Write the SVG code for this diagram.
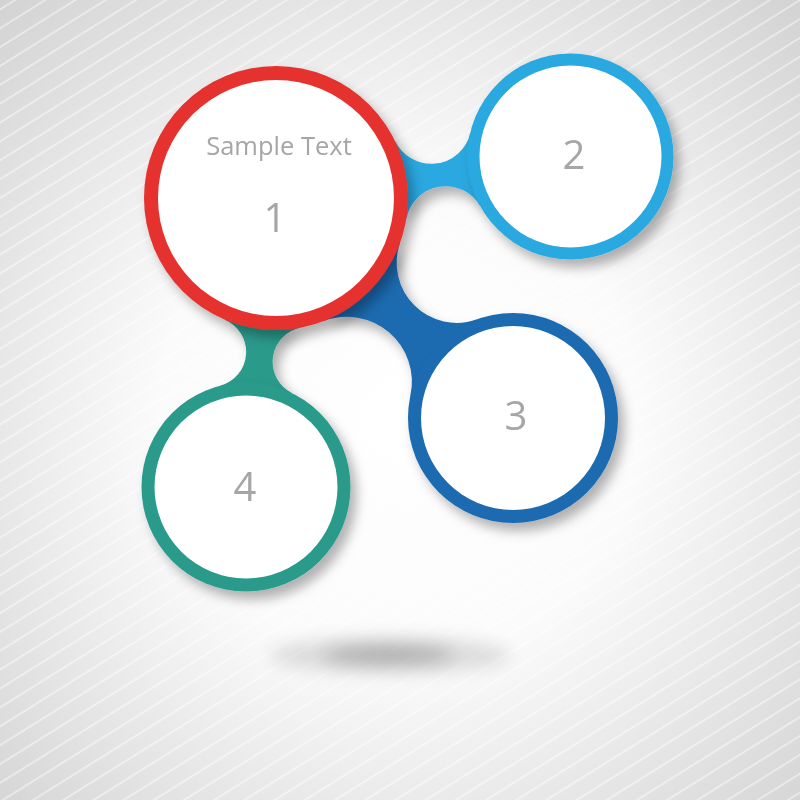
<svg xmlns="http://www.w3.org/2000/svg" width="800" height="800" viewBox="0 0 800 800">
  <defs>
    <radialGradient id="bg" cx="400" cy="420" r="600" gradientUnits="userSpaceOnUse">
      <stop offset="0" stop-color="#ffffff"/>
      <stop offset="0.4" stop-color="#fbfbfb"/>
      <stop offset="1" stop-color="#d0d0d0"/>
    </radialGradient>
    <pattern id="lines" patternUnits="userSpaceOnUse" width="40" height="16" patternTransform="rotate(-32)">
      <line x1="0" y1="8" x2="40" y2="8" stroke="#ffffff" stroke-width="1.1"/>
    </pattern>
    <filter id="shadow" x="-30%" y="-30%" width="160%" height="160%">
      <feDropShadow dx="6" dy="8" stdDeviation="6" flood-color="#000" flood-opacity="0.3"/>
    </filter>
    <filter id="blur" x="-50%" y="-200%" width="200%" height="500%">
      <feGaussianBlur stdDeviation="9"/>
    </filter>
  </defs>
  <style>
    .inner { fill: #ffffff; }
    .label { font-family: "Open Sans", "Liberation Sans", sans-serif; fill: #a6a6a6; text-anchor: middle; }
    .num { font-size: 40px; }
    .title { font-size: 25.5px; }
  </style>

  <rect width="800" height="800" fill="url(#bg)"/>
  <rect width="800" height="800" fill="url(#lines)" opacity="0.85"/>

  <g id="floor-shadow">
    <ellipse cx="390" cy="655" rx="120" ry="18" fill="#000" opacity="0.12" filter="url(#blur)"/>
    <ellipse cx="388" cy="655" rx="65" ry="9" fill="#000" opacity="0.22" filter="url(#blur)"/>
  </g>

  <g id="connectors">
    <path id="c1-2" fill="#29a8e0" filter="url(#shadow)" d="M 395 140.4 A 40 40 0 0 0 470.4 132.5 L 480.5 206.6 A 40 40 0 0 0 406.2 219.5 Z"/>
    <path id="c1-3" fill="#1a6bb0" filter="url(#shadow)" d="M 400.3 242.3 A 60 60 0 0 0 477.3 319.2 L 410.3 396 A 65 65 0 0 0 322.8 321.4 Z"/>
    <path id="c1-4" fill="#2a9a8b" filter="url(#shadow)" d="M 224.8 319.7 A 35 35 0 0 1 220 385.8 L 292.2 393.3 A 35 35 0 0 1 301.1 327.5 Z"/>
  </g>

  <g id="node2" filter="url(#shadow)">
    <circle cx="570.5" cy="156.5" r="103" fill="#29a8e0"/>
    <circle class="inner" cx="570.5" cy="156.5" r="91"/>
    <text class="label num" x="574" y="169">2</text>
  </g>

  <g id="node3" filter="url(#shadow)">
    <circle cx="513" cy="418" r="105" fill="#1a6bb0"/>
    <circle class="inner" cx="513" cy="418" r="92"/>
    <text class="label num" x="516" y="430">3</text>
  </g>

  <g id="node4" filter="url(#shadow)">
    <circle cx="246" cy="487" r="104.5" fill="#2a9a8b"/>
    <circle class="inner" cx="246" cy="487" r="91.5"/>
    <text class="label num" x="245" y="501">4</text>
  </g>

  <g id="node1" filter="url(#shadow)">
    <circle cx="276" cy="198" r="132" fill="#e5302f"/>
    <circle class="inner" cx="276" cy="198" r="118"/>
    <text class="label title" x="279" y="155">Sample Text</text>
    <text class="label num" x="275" y="232">1</text>
  </g>
</svg>
